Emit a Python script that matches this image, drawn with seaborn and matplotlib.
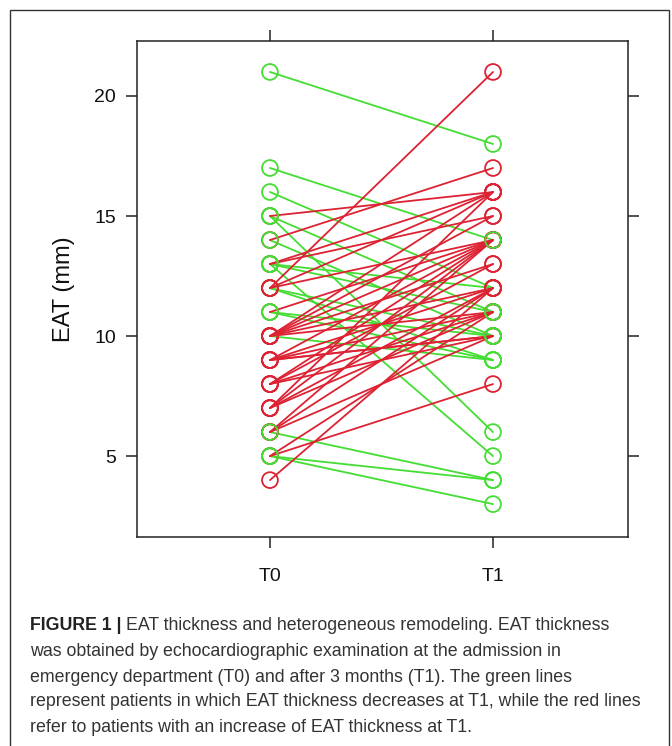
import matplotlib
matplotlib.use("Agg")
import matplotlib.pyplot as plt
import seaborn as sns
import pandas as pd
import numpy as np
from matplotlib.patches import Rectangle

# ---- data (EAT thickness, mm) ----
eat_t0 = [21, 17, 16, 15, 15, 14, 13, 13, 12, 12, 11, 11, 10, 13, 6, 5, 5,
          12, 15, 14, 13, 13, 12, 12, 10, 10, 10, 10, 10, 9, 9, 9, 9, 8, 8, 8, 8,
          7, 7, 7, 7, 6, 6, 6, 5, 5, 4, 11, 10, 9]
eat_t1 = [18, 14, 12, 11, 6, 10, 12, 11, 10, 9, 10, 9, 9, 5, 4, 4, 3,
          21, 16, 17, 16, 15, 16, 14, 16, 15, 14, 13, 12, 14, 12, 11, 10, 14, 13, 10, 11,
          16, 14, 12, 11, 14, 12, 10, 8, 11, 12, 14, 11, 10]
time_labels = ["T0", "T1"]
# colour shown on top at each marker position (as seen in the figure)
t0_green_on_top = [21, 17, 16, 15, 14, 13, 11, 6, 5]
t1_green_on_top = [18, 14, 11, 10, 9, 6, 5, 4, 3]

GREEN = "#44DD33"
RED = "#DD2233"

rows = []
for i, (a, b) in enumerate(zip(eat_t0, eat_t1)):
    d = "decrease" if b < a else "increase"
    rows.append(dict(patient=i, time=1, eat=a, dir=d))
    rows.append(dict(patient=i, time=2, eat=b, dir=d))
df = pd.DataFrame(rows)

def on_top(r):
    greens = t0_green_on_top if r["time"] == 1 else t1_green_on_top
    want = "decrease" if r["eat"] in greens else "increase"
    return 1 if r["dir"] == want else 0

pts = df.copy()
pts["top"] = pts.apply(on_top, axis=1)
pts = pts.sort_values(["top", "patient"]).reset_index(drop=True)

sns.set_style("white")
plt.rcParams["font.family"] = ["Liberation Sans", "DejaVu Sans"]

fig = plt.figure(figsize=(6.72, 7.46), dpi=100)
W, H = 672, 746
ax = fig.add_axes([137 / W, 1 - 537 / H, (628 - 137) / W, (537 - 41) / H])

pal = {"decrease": GREEN, "increase": RED}
sns.lineplot(data=df, x="time", y="eat", units="patient", estimator=None,
             hue="dir", palette=pal, linewidth=1.3, legend=False, ax=ax,
             sort=False)
sns.scatterplot(data=pts, x="time", y="eat", hue="dir", palette=pal,
                s=130, marker="o", legend=False, ax=ax, zorder=5)
coll = ax.collections[-1]
fc = coll.get_facecolors()
coll.set_edgecolors(fc)
coll.set_facecolors("none")
coll.set_linewidth(1.3)

ax.set_xlim(0.404, 2.605)
ax.set_ylim(1.63, 22.29)
ax.set_xticks([1, 2])
ax.set_xticklabels(time_labels)
ax.set_yticks([5, 10, 15, 20])
ax.set_xlabel("")
ax.set_ylabel("EAT (mm)", fontsize=17, labelpad=14, color="#111111")
for s in ax.spines.values():
    s.set_color("#222222")
    s.set_linewidth(1.1)
ax.tick_params(axis="both", which="both", direction="out", length=8, width=1.1,
               color="#222222", labelsize=14, labelcolor="#111111",
               top=True, right=True, left=True, bottom=True, pad=7)
ax.tick_params(axis="x", pad=14)

# outer figure frame
fig.patches.append(Rectangle((10 / W, -0.01), (669 - 10) / W, 1 - 10 / H + 0.01,
                             transform=fig.transFigure, fill=False,
                             edgecolor="#333333", linewidth=1.0))

# caption
cap_font = ["Liberation Sans Narrow", "Liberation Sans", "DejaVu Sans"]
fs = 12.8
lines = [
    "EAT thickness and heterogeneous remodeling. EAT thickness",
    "was obtained by echocardiographic examination at the admission in",
    "emergency department (T0) and after 3 months (T1). The green lines",
    "represent patients in which EAT thickness decreases at T1, while the red lines",
    "refer to patients with an increase of EAT thickness at T1.",
]
ys = [625, 652, 677, 702, 727]
x0 = 30 / W
bold = fig.text(x0, 1 - ys[0] / H, "FIGURE 1 | ", family=cap_font, fontsize=fs,
                weight="bold", va="center", ha="left", color="#222222")
fig.canvas.draw()
r = fig.canvas.get_renderer()
bb = bold.get_window_extent(renderer=r)
fig.text(bb.x1 / (W), 1 - ys[0] / H, lines[0], family=cap_font, fontsize=fs,
         va="center", ha="left", color="#333333")
for ln, y in zip(lines[1:], ys[1:]):
    fig.text(x0, 1 - y / H, ln, family=cap_font, fontsize=fs,
             va="center", ha="left", color="#333333")

fig.savefig("out.png", dpi=100)
